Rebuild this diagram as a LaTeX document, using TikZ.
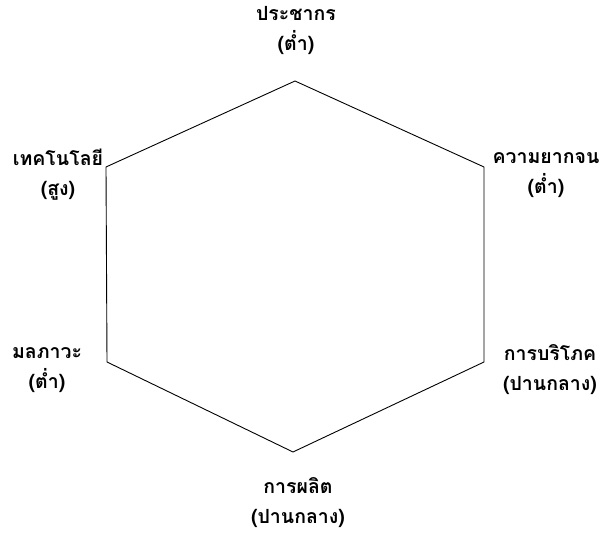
\documentclass[tikz,border=0pt]{standalone}
\usepackage{fontspec}
\newfontfamily\thaifont[Script=Thai]{Loma}
\usetikzlibrary{positioning}

\begin{document}
\begin{tikzpicture}[
  x=1pt, y=-1pt,
  lbl/.style={align=center, font=\thaifont\bfseries\fontsize{19.5}{30}\selectfont, inner sep=0pt},
  edge/.style={line width=0.9pt, black},
]
  \useasboundingbox (0,0) rectangle (606,534);

  % Hexagon corners
  \coordinate (pop) at (295,81);
  \coordinate (pov) at (484,167);
  \coordinate (con) at (484,362);
  \coordinate (pro) at (293,452);
  \coordinate (pol) at (107,362);
  \coordinate (tec) at (106,167);

  \draw[edge] (pop) -- (pov) -- (con) -- (pro) -- (pol) -- (tec) -- cycle;

  % Labels
  \node[lbl] (popl) at (296,31) {ประชากร\\(ต่ำ)};
  \node[lbl] (povl) at (546,175) {ความยากจน\\(ต่ำ)};
  \node[lbl] (conl) at (550,370) {การบริโภค\\(ปานกลาง)};
  \node[lbl] (prol) at (298,503) {การผลิต\\(ปานกลาง)};
  \node[lbl] (poll) at (47,370) {มลภาวะ\\(ต่ำ)};
  \node[lbl] (tecl) at (58,175) {เทคโนโลยี\\(สูง)};
\end{tikzpicture}
\end{document}
